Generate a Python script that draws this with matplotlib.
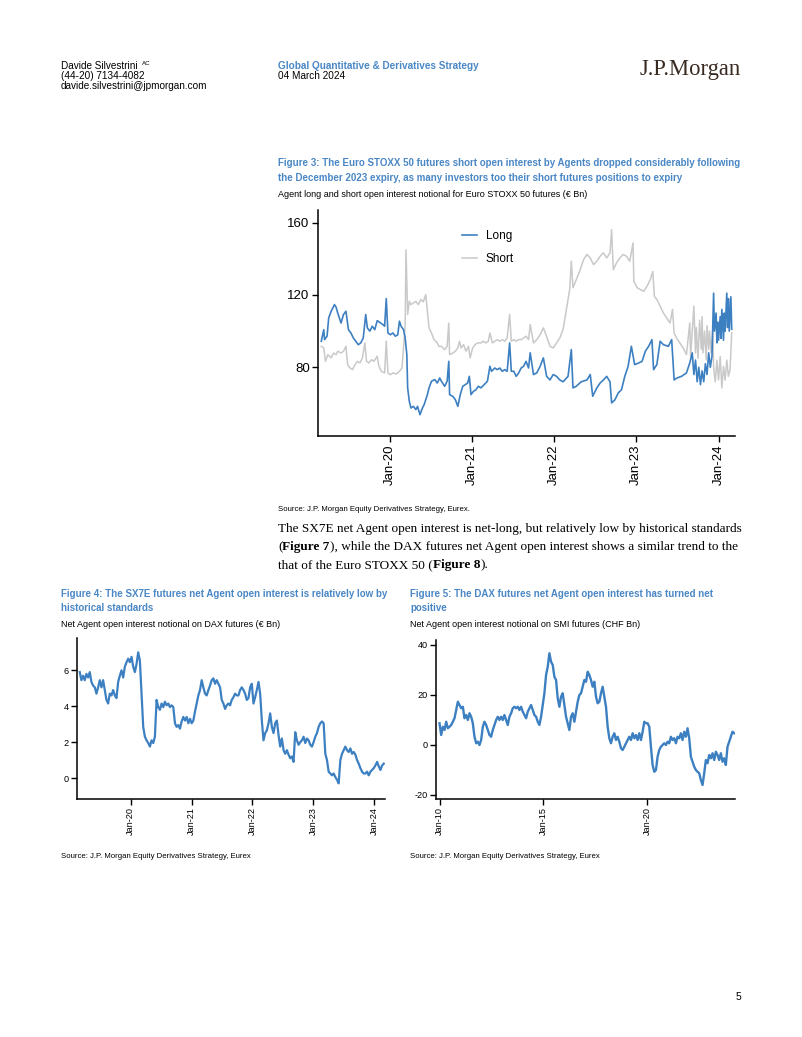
import numpy as np
import matplotlib
matplotlib.use("Agg")
import matplotlib.pyplot as plt

plt.rcParams['font.family'] = ['Liberation Sans', 'DejaVu Sans']
plt.rcParams['axes.unicode_minus'] = False

# ---- data -----------------------------------------------------------------
# Figure 3: agent long / short open interest, Euro STOXX 50 futures (EUR bn)
# (decimal year, value)
long_pts = [
    (2019.17, 94.4), (2019.20, 100.8), (2019.21, 95.3), (2019.24, 97.2), (2019.26, 107.3),
    (2019.29, 111), (2019.33, 114.7), (2019.35, 113.2), (2019.37, 110), (2019.41, 104.5),
    (2019.44, 109.2), (2019.47, 111), (2019.50, 100.8), (2019.53, 99), (2019.56, 96.2),
    (2019.59, 94.4), (2019.62, 92.5), (2019.65, 93.5), (2019.68, 96.2), (2019.71, 109.2),
    (2019.73, 101.8), (2019.76, 100), (2019.79, 102.7), (2019.82, 100.8), (2019.85, 105.8),
    (2019.89, 104.5), (2019.92, 103.6), (2019.94, 102.7), (2019.96, 118), (2019.98, 99),
    (2020.01, 98), (2020.04, 99), (2020.07, 97.2), (2020.10, 98), (2020.12, 105.5),
    (2020.14, 102.7), (2020.17, 100.8), (2020.19, 96.2), (2020.21, 87), (2020.22, 68.6),
    (2020.24, 61.2), (2020.26, 57.5), (2020.29, 58.4), (2020.32, 56.6), (2020.34, 58.4),
    (2020.37, 53.8), (2020.40, 57.5), (2020.42, 59.3), (2020.46, 64.9), (2020.48, 68.6),
    (2020.51, 72.3), (2020.55, 73.2), (2020.58, 71.3), (2020.61, 74.1), (2020.63, 72.3),
    (2020.67, 69.5), (2020.70, 72.3), (2020.72, 83.3), (2020.73, 64.9), (2020.77, 63.9),
    (2020.80, 62.1), (2020.83, 58.4), (2020.86, 64.9), (2020.89, 69.5), (2020.92, 70.4),
    (2020.95, 71.3), (2020.97, 75), (2020.99, 64.9), (2021.02, 66.7), (2021.05, 67.6),
    (2021.08, 69.5), (2021.11, 68.6), (2021.15, 70.4), (2021.19, 72.3), (2021.22, 80.6),
    (2021.24, 77.8), (2021.28, 79.6), (2021.31, 78.7), (2021.34, 79.6), (2021.37, 77.8),
    (2021.40, 78.7), (2021.43, 77.8), (2021.46, 93.5), (2021.48, 77.8), (2021.51, 77.8),
    (2021.54, 75), (2021.57, 76.9), (2021.60, 79.6), (2021.63, 80.6), (2021.66, 83.3),
    (2021.69, 79.6), (2021.71, 88), (2021.75, 76), (2021.79, 76.9), (2021.83, 80.5),
    (2021.87, 85.2), (2021.91, 75), (2021.95, 73), (2021.99, 76), (2022.03, 75),
    (2022.07, 73), (2022.11, 72), (2022.17, 75), (2022.21, 89.8), (2022.23, 68.6),
    (2022.27, 69.5), (2022.33, 72), (2022.40, 73), (2022.44, 76), (2022.47, 64),
    (2022.52, 68.6), (2022.56, 71.3), (2022.60, 73), (2022.64, 75), (2022.68, 72),
    (2022.70, 60.3), (2022.74, 62), (2022.78, 65.8), (2022.82, 67.6), (2022.86, 75),
    (2022.90, 80.5), (2022.94, 91.6), (2022.98, 81.5), (2023.03, 82.4), (2023.07, 83.3),
    (2023.11, 88.9), (2023.15, 91.6), (2023.19, 95.3), (2023.21, 78.7), (2023.25, 81.5),
    (2023.29, 94.4), (2023.33, 92.5), (2023.39, 91.6), (2023.43, 95.3), (2023.46, 73),
    (2023.49, 74), (2023.55, 75), (2023.61, 76.9), (2023.65, 82.4), (2023.68, 88),
    (2023.70, 76), (2023.72, 84), (2023.74, 72), (2023.76, 80), (2023.78, 70.4),
    (2023.80, 78), (2023.82, 72), (2023.84, 82), (2023.86, 76), (2023.88, 88),
    (2023.90, 80), (2023.92, 86), (2023.94, 121), (2023.95, 100), (2023.97, 110),
    (2023.98, 93.5), (2023.99, 105), (2024.00, 95), (2024.02, 108), (2024.03, 96),
    (2024.04, 112), (2024.06, 95), (2024.07, 110), (2024.08, 100), (2024.10, 121),
    (2024.11, 102), (2024.12, 118), (2024.13, 100), (2024.15, 119), (2024.16, 101),
]
short_pts = [
    (2019.17, 91.6), (2019.20, 90.7), (2019.22, 83.3), (2019.25, 87), (2019.29, 85.2),
    (2019.32, 87.9), (2019.35, 87), (2019.37, 88.9), (2019.41, 87.9), (2019.44, 88.9),
    (2019.47, 91.6), (2019.49, 81.5), (2019.52, 79.6), (2019.55, 78.7), (2019.58, 81.5),
    (2019.61, 83.3), (2019.64, 82.4), (2019.67, 85.2), (2019.70, 93.5), (2019.72, 83.3),
    (2019.75, 82.4), (2019.78, 84.2), (2019.81, 83.3), (2019.85, 86.1), (2019.87, 80.6),
    (2019.90, 77.8), (2019.94, 76.9), (2019.96, 94.4), (2019.98, 76.9), (2020.01, 75.9),
    (2020.04, 76.9), (2020.08, 76.3), (2020.12, 77.8), (2020.15, 79.6), (2020.17, 90.7),
    (2020.19, 103.6), (2020.20, 145), (2020.22, 109.2), (2020.24, 116.5), (2020.26, 114.7),
    (2020.29, 115.6), (2020.32, 116.5), (2020.35, 114.7), (2020.38, 117.5), (2020.41, 116.2),
    (2020.44, 120.2), (2020.46, 111), (2020.48, 101.8), (2020.51, 99), (2020.54, 95.3),
    (2020.58, 93.5), (2020.60, 91.6), (2020.63, 91.6), (2020.67, 89.8), (2020.70, 91.6),
    (2020.72, 104.5), (2020.73, 87), (2020.77, 87.9), (2020.80, 88.9), (2020.83, 90.7),
    (2020.85, 94.4), (2020.87, 90.7), (2020.90, 92.5), (2020.93, 88.9), (2020.96, 91.6),
    (2020.98, 85.2), (2021.01, 90.7), (2021.04, 92.5), (2021.07, 93.5), (2021.11, 93.5),
    (2021.14, 94.4), (2021.17, 93.5), (2021.20, 94.4), (2021.22, 99), (2021.25, 93.5),
    (2021.28, 94.4), (2021.31, 95.3), (2021.34, 94.4), (2021.37, 95.3), (2021.40, 94.4),
    (2021.43, 96.2), (2021.46, 109.2), (2021.48, 94.4), (2021.51, 95.3), (2021.54, 94.4),
    (2021.57, 95.3), (2021.60, 95.3), (2021.63, 96.2), (2021.66, 97.2), (2021.69, 95.3),
    (2021.71, 103.6), (2021.75, 93.5), (2021.79, 95.3), (2021.83, 98), (2021.87, 101.8),
    (2021.91, 97), (2021.95, 91.6), (2021.99, 90.7), (2022.03, 93.5), (2022.07, 96.2),
    (2022.11, 101), (2022.15, 112), (2022.19, 123), (2022.21, 138.7), (2022.23, 124),
    (2022.27, 128.5), (2022.31, 133), (2022.36, 139.6), (2022.40, 142.4), (2022.44, 140.5),
    (2022.48, 136.8), (2022.52, 138.7), (2022.56, 141.4), (2022.60, 143.3), (2022.64, 140.5),
    (2022.68, 143.3), (2022.70, 156.2), (2022.72, 134), (2022.76, 137.8), (2022.80, 140.5),
    (2022.84, 142.4), (2022.88, 141.4), (2022.92, 138.7), (2022.96, 148.8), (2022.97, 127.6),
    (2023.01, 124), (2023.05, 123), (2023.09, 122), (2023.13, 124.8), (2023.17, 128.5),
    (2023.20, 133), (2023.22, 119.3), (2023.25, 117.5), (2023.29, 113.8), (2023.33, 110),
    (2023.37, 107.3), (2023.41, 104.5), (2023.44, 112), (2023.46, 99), (2023.49, 96.2),
    (2023.53, 93.5), (2023.57, 90.7), (2023.61, 87), (2023.65, 104.5), (2023.66, 86),
    (2023.68, 100), (2023.70, 113.8), (2023.72, 88), (2023.73, 102), (2023.75, 85),
    (2023.77, 106), (2023.79, 90), (2023.80, 108), (2023.81, 88), (2023.83, 100),
    (2023.85, 84), (2023.86, 103), (2023.88, 90), (2023.89, 100), (2023.91, 88),
    (2023.93, 101), (2023.94, 80), (2023.96, 72), (2023.98, 84), (2024.00, 73),
    (2024.02, 86), (2024.04, 68.6), (2024.06, 80.5), (2024.08, 73), (2024.10, 84),
    (2024.12, 75), (2024.14, 78.7), (2024.16, 99),
]
fig3_ticks = [2020, 2021, 2022, 2023, 2024]
fig3_labels = ['Jan-20', 'Jan-21', 'Jan-22', 'Jan-23', 'Jan-24']

# Figure 4: net agent open interest, DAX futures (EUR bn), ~10-day samples Mar-19 .. Feb-24
dax_net = [5.9, 5.45, 5.7, 5.45, 5.8, 5.6, 5.9, 5.35, 5.15, 5.05,
           4.7, 5.05, 5.45, 5.05, 5.45, 4.9, 4.35, 4.15, 4.7, 4.6,
           4.9, 4.6, 4.45, 5.35, 5.7, 6.0, 5.6, 6.2, 6.45, 6.65,
           6.45, 6.75, 6.2, 5.9, 6.35, 7.0, 6.55, 4.7, 2.85, 2.3,
           2.1, 1.95, 1.75, 2.1, 1.95, 2.3, 4.35, 3.95, 3.8, 4.15,
           3.95, 4.25, 4.05, 4.15, 3.95, 4.05, 3.95, 3.05, 2.85, 2.95,
           2.75, 3.15, 3.4, 3.2, 3.4, 3.05, 3.3, 3.05, 3.2, 3.7,
           4.15, 4.6, 4.9, 5.45, 5.05, 4.7, 4.6, 4.9, 5.15, 5.45,
           5.55, 5.25, 5.45, 5.25, 5.05, 4.35, 4.15, 3.85, 4.05, 4.15,
           4.05, 4.35, 4.5, 4.7, 4.6, 4.6, 4.9, 5.05, 4.9, 4.7,
           4.35, 4.45, 5.05, 5.25, 4.15, 4.5, 4.9, 5.35, 4.7, 3.2,
           2.1, 2.5, 2.65, 3.05, 3.6, 2.85, 2.5, 3.05, 3.2, 2.4,
           1.75, 2.2, 1.55, 1.35, 1.55, 1.3, 1.1, 1.2, 0.9, 2.55,
           2.1, 1.85, 2.0, 2.1, 2.3, 1.95, 2.2, 2.1, 1.85, 1.75,
           2.0, 2.3, 2.5, 2.85, 3.05, 3.15, 3.05, 1.35, 1.0, 0.35,
           0.25, 0.15, 0.25, 0.05, -0.1, -0.3, 1.0, 1.35, 1.55, 1.75,
           1.55, 1.45, 1.65, 1.35, 1.45, 1.3, 1.0, 0.8, 0.55, 0.35,
           0.25, 0.25, 0.35, 0.15, 0.35, 0.45, 0.55, 0.7, 0.9, 0.65,
           0.45, 0.7, 0.8]
dax_start, dax_end = 2019.16, 2024.16
fig4_ticks = [2020, 2021, 2022, 2023, 2024]
fig4_labels = ['Jan-20', 'Jan-21', 'Jan-22', 'Jan-23', 'Jan-24']

# Figure 5: net agent open interest, SMI futures (CHF bn), ~monthly samples Jan-10 .. Mar-24
smi_net = [8.7, 4, 7.3, 6, 9.3, 6.7, 7.3, 8, 9.3, 10.7,
           14, 17.3, 16, 14.7, 15.3, 10.7, 12, 10, 12.7, 11.3,
           8.7, 3.3, 0.7, 1.3, 0, 2, 7.3, 9.3, 8, 6,
           4, 3.3, 6, 8, 10, 11.3, 10, 11.3, 10, 12,
           10, 8, 11.3, 12.7, 14.7, 15.3, 14.7, 15.3, 14, 15.3,
           13.3, 12, 10.7, 13.3, 14.7, 16, 14, 12, 11.3, 9.3,
           8, 11.3, 16, 20.7, 28, 31.3, 36.7, 33.3, 32, 27.3,
           26, 18.7, 15.3, 19.3, 20.7, 16, 11.3, 8.7, 6, 11.3,
           12.7, 9.3, 13.3, 17.3, 20, 20.7, 23.3, 26, 25.3, 29.3,
           28, 26, 23.3, 25.3, 19.3, 16.7, 17.3, 20.7, 23.3, 19.3,
           15.3, 7.3, 2.7, 0.7, 3.3, 4.7, 2, 3.3, 1.3, -1.3,
           -2, -0.7, 0.7, 2, 3.3, 2, 4.7, 2.7, 4, 2,
           4.7, 2, 5.3, 9.3, 8.7, 8.7, 7.3, -0.7, -8, -10.7,
           -10, -4.7, -2, -0.7, 0, 0.7, 0, 1.3, 0.7, 3.3,
           2, 2.7, 0.7, 3.3, 2.7, 4.7, 2, 5.3, 3.3, 6.7,
           2.7, -4.7, -6.7, -8.7, -10, -10.7, -11.3, -14, -16, -11.3,
           -6, -7.3, -4, -5.3, -3.3, -6, -2.7, -4, -6, -3.3,
           -6.7, -5.3, -8, -0.7, 1.3, 3.3, 5.3, 4.7]
smi_start, smi_end = 2010.0, 2024.18
fig5_ticks = [2010, 2015, 2020]
fig5_labels = ['Jan-10', 'Jan-15', 'Jan-20']

BLUE = '#3d80c2'
GREY = '#c9c9c9'
TITLE_BLUE = '#4a87c5'

W, H = 802, 1037
fig = plt.figure(figsize=(W / 100, H / 100), dpi=100)
renderer = fig.canvas.get_renderer()


def txt(x, y, s, **kw):
    kw.setdefault('va', 'baseline')
    return fig.text(x / W, 1 - y / H, s, **kw)


def axes_px(left, top, right, bottom):
    return fig.add_axes([left / W, 1 - bottom / H, (right - left) / W, (bottom - top) / H])


def style_axes(ax, size):
    for s in ['top', 'right']:
        ax.spines[s].set_visible(False)
    for s in ['left', 'bottom']:
        ax.spines[s].set_linewidth(1.1)
    ax.tick_params(direction='out', length=4, width=1, labelsize=size, pad=2)


def advance(s, size, family, weight):
    # width of s including its trailing side bearing
    a = fig.text(0, 0, s + '|', fontsize=size, family=family, fontweight=weight)
    b = fig.text(0, 0, '|', fontsize=size, family=family, fontweight=weight)
    w = a.get_window_extent(renderer).width - b.get_window_extent(renderer).width
    a.remove()
    b.remove()
    return w


def runs(x, y, parts, size, family):
    for s, weight in parts:
        txt(x, y, s, fontsize=size, family=family, fontweight=weight)
        x += advance(s, size, family, weight)


# ---- header -----------------------------------------------------------------
txt(61, 69, 'Davide Silvestrini', fontsize=7.2)
txt(142, 65, 'AC', fontsize=4.5)
txt(61, 79, '(44-20) 7134-4082', fontsize=7.2)
txt(61, 89, 'davide.silvestrini@jpmorgan.com', fontsize=7.2)
txt(278, 69, 'Global Quantitative & Derivatives Strategy', fontsize=7.2,
    color=TITLE_BLUE, fontweight='bold')
txt(278, 79, '04 March 2024', fontsize=7.2)
txt(741, 75, 'J.P.Morgan', fontsize=16.3, family='Liberation Serif',
    color='#3a2b22', ha='right')

# ---- figure 3 -----------------------------------------------------------------
txt(278, 166, 'Figure 3: The Euro STOXX 50 futures short open interest by Agents dropped considerably following',
    fontsize=7.05, color=TITLE_BLUE, fontweight='bold')
txt(278, 181, 'the December 2023 expiry, as many investors too their short futures positions to expiry',
    fontsize=7.05, color=TITLE_BLUE, fontweight='bold')
txt(278, 197, 'Agent long and short open interest notional for Euro STOXX 50 futures (\u20ac Bn)', fontsize=6.45)

ax = axes_px(318, 210, 735, 436)
sx, sy = zip(*short_pts)
lx, ly = zip(*long_pts)
ax.plot(sx, sy, color=GREY, lw=1.1, label='Short', zorder=1)
ax.plot(lx, ly, color=BLUE, lw=1.2, label='Long', zorder=2)
ax.set_xlim(2019.13, 2024.2)
ax.set_ylim(42, 167)
ax.set_yticks([80, 120, 160])
ax.set_xticks(fig3_ticks)
ax.set_xticklabels(fig3_labels, rotation=90)
style_axes(ax, 9.5)
h, l = ax.get_legend_handles_labels()
ax.legend(h[::-1], l[::-1], loc='upper left', bbox_to_anchor=(0.32, 0.96), frameon=False,
          fontsize=8.5, handlelength=1.3, handletextpad=0.7, labelspacing=1.0)

txt(278, 511, 'Source: J.P. Morgan Equity Derivatives Strategy, Eurex.', fontsize=5.6)

serif = 'Liberation Serif'
runs(278, 532, [('The SX7E net Agent open interest is net-long, but relatively low by historical standards',
                 'normal')], 9.5, serif)
runs(278, 550, [('(', 'normal'), ('Figure 7', 'bold'),
                ('), while the DAX futures net Agent open interest shows a similar trend to the', 'normal')],
     9.5, serif)
runs(278, 568, [('that of the Euro STOXX 50 (', 'normal'), ('Figure 8', 'bold'), (').', 'normal')],
     9.5, serif)

# ---- figure 4 -----------------------------------------------------------------
txt(61, 597, 'Figure 4: The SX7E futures net Agent open interest is relatively low by',
    fontsize=7.0, color=TITLE_BLUE, fontweight='bold')
txt(61, 611, 'historical standards', fontsize=7.0, color=TITLE_BLUE, fontweight='bold')
txt(61, 627, 'Net Agent open interest notional on DAX futures (\u20ac Bn)', fontsize=6.45)

ax4 = axes_px(77, 638, 385, 799)
ax4.plot(np.linspace(dax_start, dax_end, len(dax_net)), dax_net, color=BLUE, lw=1.6)
ax4.set_xlim(2019.115, 2024.18)
ax4.set_ylim(-1.17, 7.8)
ax4.set_yticks([0, 2, 4, 6])
ax4.set_xticks(fig4_ticks)
ax4.set_xticklabels(fig4_labels, rotation=90)
style_axes(ax4, 6.6)
txt(61, 858, 'Source: J.P. Morgan Equity Derivatives Strategy, Eurex', fontsize=5.6)

# ---- figure 5 -----------------------------------------------------------------
txt(410, 597, 'Figure 5: The DAX futures net Agent open interest has turned net',
    fontsize=7.0, color=TITLE_BLUE, fontweight='bold')
txt(410, 611, 'positive', fontsize=7.0, color=TITLE_BLUE, fontweight='bold')
txt(410, 627, 'Net Agent open interest notional on SMI futures (CHF Bn)', fontsize=6.45)

ax5 = axes_px(436, 640, 735, 799)
ax5.plot(np.linspace(smi_start, smi_end, len(smi_net)), smi_net, color=BLUE, lw=1.7)
ax5.set_xlim(2009.83, 2024.22)
ax5.set_ylim(-21.6, 42)
ax5.set_yticks([-20, 0, 20, 40])
ax5.set_xticks(fig5_ticks)
ax5.set_xticklabels(fig5_labels, rotation=90)
style_axes(ax5, 6.6)
txt(410, 858, 'Source: J.P. Morgan Equity Derivatives Strategy, Eurex', fontsize=5.6)

txt(741, 1000, '5', fontsize=7.5, ha='right')

fig.savefig('out.png', dpi=100)
